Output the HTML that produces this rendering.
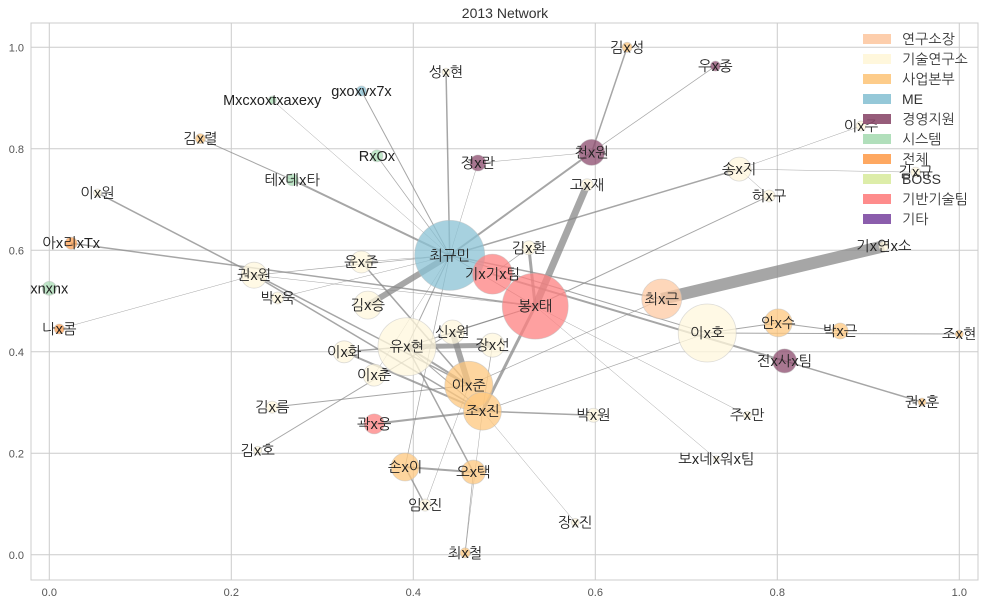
<!DOCTYPE html>
<html><head><meta charset="utf-8">
<style>
html,body{margin:0;padding:0;background:#fff;}
svg{display:block;font-family:"Liberation Sans","NanumGothic","Noto Sans CJK KR",sans-serif;}
</style></head>
<body>
<svg id="chart" width="985" height="605" viewBox="0 0 985 605"></svg>
<script>
const names=["최규민","봉x태","기x기x팀","이x호","유x현","이x준","조x진","최x근","천x원","전x사x팀","안x수","손x이","오x택","곽x웅","권x원","송x지","김x승","신x원","장x선","이x화","이x춘","윤x준","김x환","고x재","박x욱","박x근","김x성","우x종","이x주","김x규","허x구","기x연x소","조x현","권x훈","주x만","보x네x워x팀","박x원","장x진","최x철","임x진","김x호","김x름","성x현","gxoxvx7x","Mxcxoxtxaxexy","김x렬","RxOx","테x데x타","이x원","아x리xTx","xnxnx","나x콤","정x란"];
const xs=[.440,.534,.487,.723,.393,.461,.476,.673,.596,.808,.801,.391,.466,.357,.225,.758,.350,.443,.487,.324,.357,.343,.527,.591,.251,.869,.635,.732,.892,.952,.791,.917,1.0,.959,.767,.733,.598,.578,.457,.413,.229,.245,.436,.343,.245,.166,.360,.267,.053,.024,.0,.011,.471];
const ys=[.590,.490,.553,.437,.410,.334,.283,.504,.793,.382,.457,.173,.163,.258,.551,.760,.492,.439,.413,.400,.354,.577,.605,.729,.506,.441,1.0,.963,.845,.754,.707,.608,.435,.301,.275,.189,.275,.064,.004,.098,.206,.291,.951,.914,.896,.820,.786,.739,.713,.614,.525,.445,.772];
const sizes=[1225,1089,400,841,841,576,361,400,169,144,196,196,144,100,169,144,196,144,144,121,121,121,49,36,36,64,25,25,25,25,36,25,16,16,16,9,49,16,25,36,16,36,16,25,16,25,36,36,16,36,49,25,64];
const groups=[3,8,8,1,1,2,2,0,4,4,2,2,2,8,1,1,1,1,1,1,1,1,1,1,1,2,2,4,1,1,1,1,2,2,1,1,1,1,2,1,1,1,1,3,5,2,5,5,1,6,5,6,4];
const legendLabels=["연구소장","기술연구소","사업본부","ME","경영지원","시스템","전체","BOSS","기반기술팀","기타"];
const groupColors=["#fdc9a3","#fff7dc","#fdc77d","#89c2d4","#8b4a6c","#a8dcb4","#fe9f50","#d9eba0","#fe8080","#7e4ba3"];
const edgeSrc=["최규민","고x재","최x근","신x원","유x현","유x현","최규민","천x원","천x원","천x원","최규민","송x지","송x지","송x지","봉x태","최규민","김x렬","최규민","최규민","최규민","최규민","최규민","이x원","아x리xTx","권x원","권x원","권x원","나x콤","박x욱","최규민","최규민","기x기x팀","전x사x팀","이x호","이x호","안x수","김x환","김x환","조x진","곽x웅","김x름","김x호","손x이","손x이","오x택","오x택","조x진","이x호","이x화","이x화","유x현","이x춘","윤x준","봉x태","봉x태","신x원","이x준","유x현","손x이","봉x태","유x현","임x진","최x철","장x선","봉x태","윤x준"];
const edgeDst=["김x승","봉x태","기x연x소","이x준","장x선","이x준","천x원","김x성","우x종","정x란","송x지","이x주","김x규","허x구","허x구","테x데x타","테x데x타","Mxcxoxtxaxexy","gxoxvx7x","성x현","RxOx","정x란","이x준","봉x태","최규민","봉x태","조x진","권x원","최규민","최x근","이x호","전x사x팀","권x훈","조x현","안x수","박x근","봉x태","기x기x팀","박x원","조x진","이x준","신x원","오x택","임x진","최x철","유x현","장x진","조x진","유x현","조x진","최규민","최규민","이x준","주x만","보x네x워x팀","봉x태","최x근","봉x태","최규민","조x진","조x진","이x준","조x진","조x진","최규민","최규민"];
const edgeWeights=[6,7,12,6,5,2,2,1.5,0.7,0.5,1.5,0.5,0.5,0.5,1,2,1,0.5,1,1.5,0.7,0.5,1.5,1.5,0.7,0.5,1.5,0.5,0.5,1.5,1,2,1.5,1,1,1,3,0.7,1.5,2,1,1,2,1.5,0.7,1.5,0.5,0.7,1.5,2,1,0.5,1.5,0.5,0.5,1,0.7,1,0.7,3,1,0.5,0.5,0.7,0.7,0.5];
const xTicks=[0,0.2,0.4,0.6,0.8,1.0];
const yTicks=[0,0.2,0.4,0.6,0.8,1.0];

const NS="http://www.w3.org/2000/svg";
const svg=document.getElementById('chart');
const L=31,R=978,T=23,B=580;
function sx(v){return 49.3+v*910;}
function sy(v){return 554.8-v*507.5;}
function mk(tag,attrs,parent){const e=document.createElementNS(NS,tag);for(const k in attrs)e.setAttribute(k,attrs[k]);(parent||svg).appendChild(e);return e;}

const grid=mk('g',{});


xTicks.forEach(t=>{
  const l=mk('line',{x1:sx(t),x2:sx(t),y1:T,y2:B,stroke:'#cccccc','stroke-width':1},grid);
  
  
  const tx=mk('text',{x:sx(t),y:596,'text-anchor':'middle','font-size':11,fill:'#555'});
  
  
  tx.textContent=t.toFixed(1);
});
yTicks.forEach(t=>{
  const l=mk('line',{x1:L,x2:R,y1:sy(t),y2:sy(t),stroke:'#cccccc','stroke-width':1},grid);
  
  
  const tx=mk('text',{x:24,y:sy(t)+4,'text-anchor':'end','font-size':11,fill:'#555'});
  
  
  tx.textContent=t.toFixed(1);
});
const frame=mk('rect',{x:L,y:T,width:R-L,height:B-T,fill:'none',stroke:'#cccccc','stroke-width':1});



const title=mk('text',{x:505,y:18,'text-anchor':'middle','font-size':14,fill:'#333'});


title.textContent='2013 Network';

const idx={};names.forEach((n,i)=>idx[n]=i);
const eg=mk('g',{});


edgeSrc.forEach((s,i)=>{
  const a=idx[s],b=idx[edgeDst[i]];
  const l=mk('line',{x1:sx(xs[a]),y1:sy(ys[a]),x2:sx(xs[b]),y2:sy(ys[b]),stroke:'#888','stroke-opacity':0.75,'stroke-width':edgeWeights[i]},eg);
  
  
});
const ng=mk('g',{});


names.forEach((n,i)=>{
  const c=mk('circle',{cx:sx(xs[i]),cy:sy(ys[i]),r:Math.sqrt(sizes[i]),fill:groupColors[groups[i]],'fill-opacity':0.75,stroke:'#bbb','stroke-opacity':0.5,'stroke-width':0.8},ng);
  
  
});
const lg=mk('g',{});


names.forEach((n,i)=>{
  const t=mk('text',{x:sx(xs[i]),y:sy(ys[i])+5,'text-anchor':'middle','font-size':14.5,fill:'#222'},lg);
  
  
  t.textContent=n;
});
const leg=mk('g',{});


legendLabels.forEach((lab,i)=>{
  const y=39+i*20;
  const r=mk('rect',{x:863,y:y-5,width:28,height:10,fill:groupColors[i],'fill-opacity':i==1?1:0.9},leg);
  
  
  const t=mk('text',{x:902,y:y+5,'font-size':14,fill:'#333'},leg);
  
  
  t.textContent=lab;
});
</script>
</body></html>
